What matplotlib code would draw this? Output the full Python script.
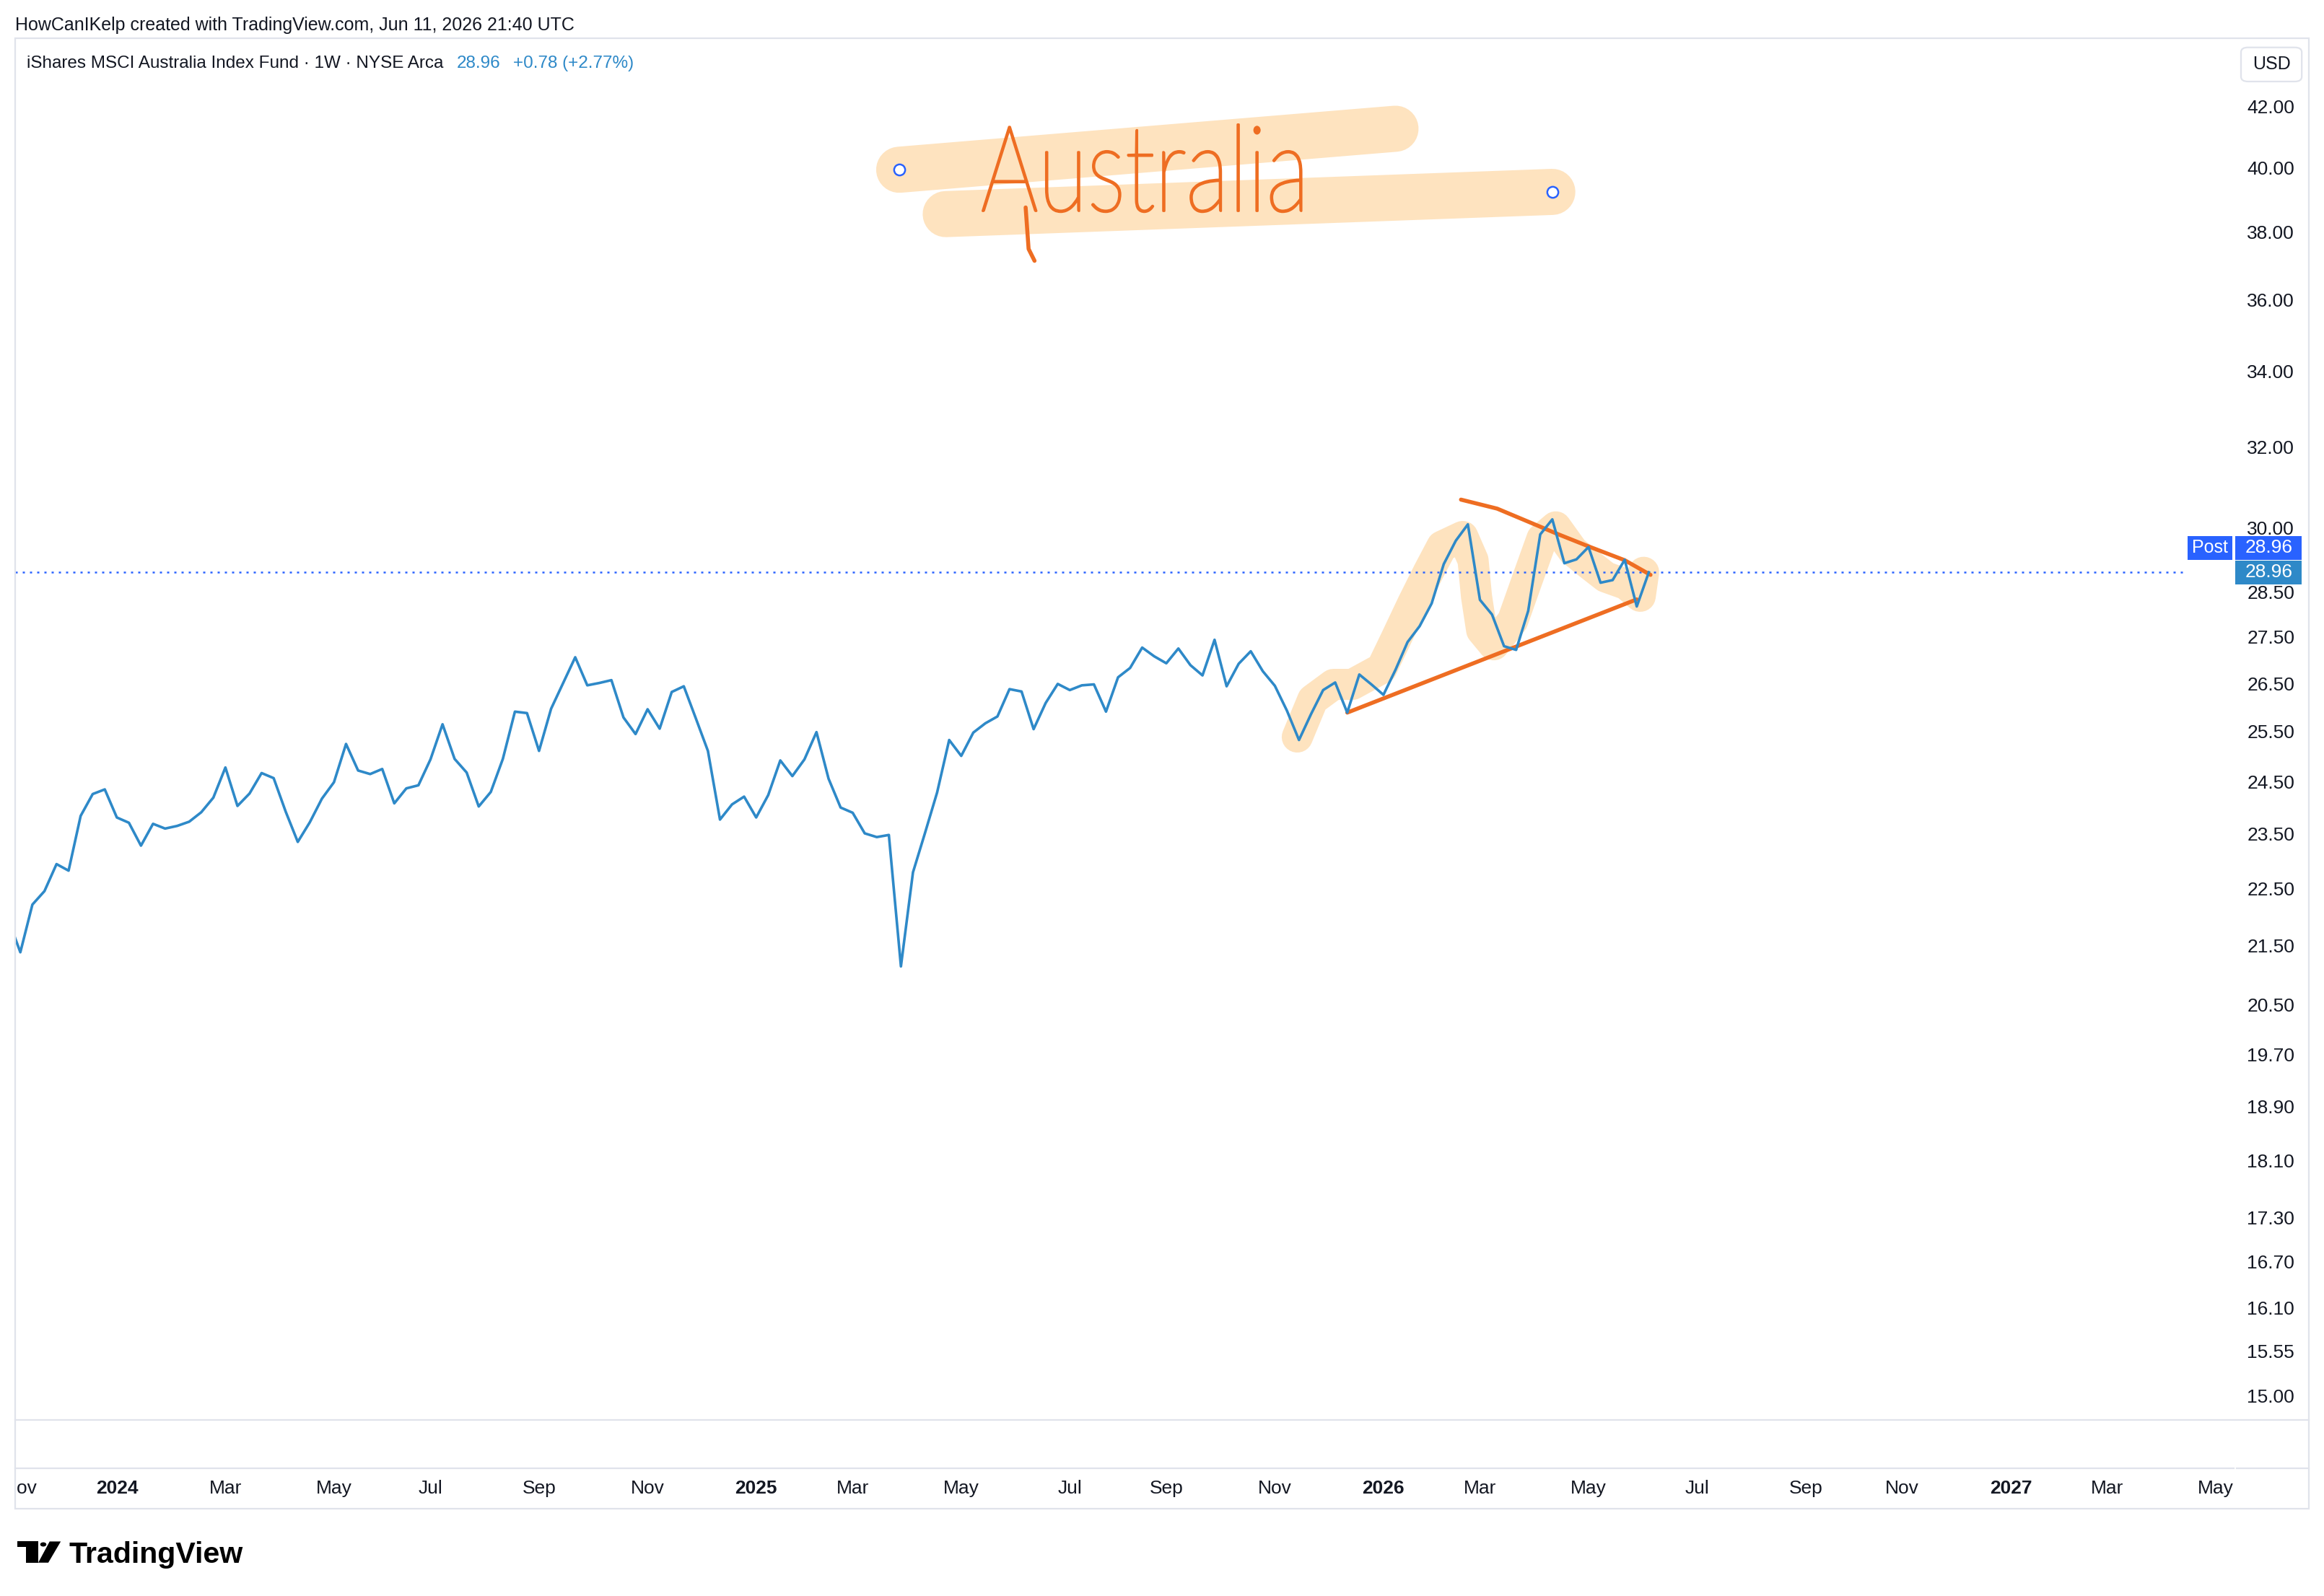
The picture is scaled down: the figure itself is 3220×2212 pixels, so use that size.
import pandas as pd
import matplotlib
matplotlib.use("Agg")
import matplotlib.pyplot as plt
import matplotlib.transforms as mtransforms
from matplotlib.patches import Rectangle, FancyBboxPatch, Circle, Polygon, PathPatch
from matplotlib.lines import Line2D
from matplotlib.textpath import TextPath
from matplotlib.font_manager import FontProperties
from matplotlib.transforms import Affine2D

# weekly closes, iShares MSCI Australia (EWA), weeks from 2023-10-30 to 2026-06-08
first_week = "2023-10-30"
closes = [21.95,
          21.38, 22.21, 22.45, 22.94, 22.82, 23.84, 24.26, 24.35, 23.81, 23.71,
          23.28, 23.69, 23.60, 23.65, 23.73, 23.91, 24.19, 24.78, 24.03, 24.27,
          24.67, 24.57, 23.92, 23.35, 23.72, 24.17, 24.49, 25.25, 24.72, 24.65,
          24.75, 24.08, 24.37, 24.43, 24.94, 25.65,
          24.95, 24.68, 24.02, 24.30, 24.95, 25.91, 25.88, 25.11, 25.97, 26.51,
          27.06, 26.46, 26.51, 26.57, 25.79, 25.45, 25.96, 25.56, 26.32, 26.44,
          25.77, 25.11, 23.77, 24.06, 24.21, 23.81, 24.24, 24.92, 24.61, 24.94,
          25.49, 24.56, 24.00, 23.90, 23.51, 23.44, 23.48,
          21.14, 22.79, 23.52, 24.29, 25.33, 25.01, 25.48, 25.67, 25.81, 26.38,
          26.33, 25.55, 26.09, 26.49, 26.36, 26.46, 26.48, 25.91, 26.63, 26.83,
          27.27, 27.08, 26.93, 27.25, 26.89, 26.67, 27.44, 26.44, 26.92, 27.19,
          26.76, 26.45, 25.93, 25.33, 25.86, 26.36,
          26.52, 25.89, 26.69, 26.48, 26.26, 26.79, 27.39, 27.74, 28.25, 29.15,
          29.70, 30.09, 28.33, 28.00, 27.30, 27.22, 28.08, 29.85, 30.21, 29.17,
          29.26, 29.55, 28.72, 28.78, 29.25, 28.18, 28.96]
last_price = 28.96
change_txt = "+0.78 (+2.77%)"

# drawn trend lines (date, price)
upper_dates = ["2026-02-19", "2026-03-12", "2026-04-01", "2026-04-16",
               "2026-05-05", "2026-05-25", "2026-06-09"]
upper_prices = [30.69, 30.47, 30.12, 29.86, 29.55, 29.24, 28.90]
lower_dates = ["2025-12-15", "2026-06-01"]
lower_prices = [25.89, 28.34]

# highlighter over the last swing
marker_dates = ["2025-11-16", "2025-11-25", "2025-12-07", "2025-12-18", "2026-01-04",
                "2026-01-12", "2026-01-22", "2026-01-31", "2026-02-08", "2026-02-20",
                "2026-02-26", "2026-02-28", "2026-03-03", "2026-03-10", "2026-03-21",
                "2026-03-30", "2026-04-07", "2026-04-15", "2026-04-25", "2026-05-05",
                "2026-05-14", "2026-05-26", "2026-06-03", "2026-06-05"]
marker_prices = [25.39, 26.16, 26.48, 26.48, 26.82, 27.44, 28.25, 28.96, 29.57, 29.80,
                 29.24, 28.41, 27.65, 27.33, 27.86, 28.85, 29.75, 30.03, 29.46, 29.13,
                 28.85, 28.68, 28.41, 28.96]

# "Australia" note: two highlighter strokes and their anchor handles
note_a_dates = ["2025-03-30", "2026-01-12"]
note_a_prices = [39.94, 41.27]
note_b_dates = ["2025-04-26", "2026-04-13"]
note_b_prices = [38.55, 39.24]
handle_dates = ["2025-03-30", "2026-04-13"]
handle_prices = [39.94, 39.24]

price_ticks = [42.0, 40.0, 38.0, 36.0, 34.0, 32.0, 30.0, 28.5, 27.5, 26.5, 25.5, 24.5,
               23.5, 22.5, 21.5, 20.5, 19.7, 18.9, 18.1, 17.3, 16.7, 16.1, 15.55, 15.0]

LINE = "#2e89c8"
ORANGE = "#ee6d22"
PEACH = "#fee3bf"
TXT = "#131722"
GRID = "#e0e3eb"
BLUE = "#2962ff"
FONT = ["Liberation Sans", "DejaVu Sans"]
plt.rcParams["font.family"] = FONT

dates = pd.date_range(first_week, periods=len(closes), freq="W-MON")

fig = plt.figure(figsize=(16.1, 11.06), dpi=200)
W, H = 1568.0, 1077.0


def fx(d):
    return d / W


def fy(d):
    return 1 - d / H


ax = fig.add_axes([fx(10), fy(958), fx(1508) - fx(10), fy(27) - fy(958)])
ax.set_yscale("log")
ax.set_ylim(14.72, 44.30)
x_left = dates[1] - pd.Timedelta(days=3.2)
x_right = dates[-1] + pd.Timedelta(weeks=48.6)
ax.set_xlim(x_left, x_right)
for s in ax.spines.values():
    s.set_visible(False)

ax.plot(pd.to_datetime(note_a_dates), note_a_prices, color=PEACH, lw=23,
        solid_capstyle="round", zorder=2)
ax.plot(pd.to_datetime(note_b_dates), note_b_prices, color=PEACH, lw=23,
        solid_capstyle="round", zorder=2)
ax.plot(pd.to_datetime(handle_dates), handle_prices, "o", ms=5.5, mfc="white",
        mec=BLUE, mew=0.9, zorder=6)

ax.plot(pd.to_datetime(marker_dates), marker_prices, color=PEACH, lw=15.5,
        solid_capstyle="round", solid_joinstyle="round", zorder=2)
ax.axhline(last_price, xmin=0, xmax=(1476 - 10) / (1508 - 10), color=BLUE, lw=0.9,
           ls=(0, (1.2, 2.8)), zorder=3)
ax.plot(pd.to_datetime(upper_dates), upper_prices, color=ORANGE, lw=2.0,
        solid_capstyle="round", zorder=4)
ax.plot(pd.to_datetime(lower_dates), lower_prices, color=ORANGE, lw=2.0,
        solid_capstyle="round", zorder=4)
ax.plot(dates, closes, color=LINE, lw=1.3, zorder=5)

ax.yaxis.tick_right()
ax.set_yticks(price_ticks)
ax.set_yticklabels(["%.2f" % v for v in price_ticks])
ax.yaxis.set_minor_locator(matplotlib.ticker.NullLocator())
ax.tick_params(axis="y", length=0, pad=5.9, labelsize=9.5, labelcolor=TXT)
ax.set_xticks([])

# time axis
ax_t = fig.add_axes([fx(10), fy(1018), fx(1508) - fx(10), fy(991) - fy(1018)])
ax_t.set_xlim(x_left, x_right)
ax_t.set_ylim(0, 1)
ax_t.axis("off")
weeks = pd.date_range(first_week, "2027-08-01", freq="W-MON")
seen = set()
for d in weeks:
    key = (d.year, d.month)
    if key in seen or d.month % 2 == 0:
        continue
    seen.add(key)
    lab = str(d.year) if d.month == 1 else d.strftime("%b")
    ax_t.text(d, 0.5, lab, ha="center", va="center", fontsize=9.5, color=TXT,
              fontweight="bold" if d.month == 1 else "normal", clip_on=True)

# frame and separators
fig.add_artist(Rectangle((fx(10), fy(1018)), fx(1558) - fx(10), fy(26) - fy(1018),
                         fill=False, ec=GRID, lw=0.8))
fig.add_artist(Line2D([fx(10), fx(1558)], [fy(958), fy(958)], color=GRID, lw=0.8))
fig.add_artist(Line2D([fx(10), fx(1507)], [fy(991), fy(991)], color=GRID, lw=0.8))
fig.add_artist(Line2D([fx(1509), fx(1558)], [fy(991), fy(991)], color=GRID, lw=0.8))

# header texts
fig.text(fx(10), fy(17), "HowCanIKelp created with TradingView.com, Jun 11, 2026 21:40 UTC",
         fontsize=9, color=TXT, va="center")
fig.text(fx(18), fy(43), "iShares MSCI Australia Index Fund · 1W · NYSE Arca",
         fontsize=8.75, color=TXT, va="center")
fig.text(fx(308), fy(43), "%.2f" % last_price, fontsize=8.75, color=LINE, va="center")
fig.text(fx(346), fy(43), change_txt, fontsize=8.75, color=LINE, va="center")

# USD box
fig.add_artist(FancyBboxPatch((fx(1512), fy(55)), fx(1553) - fx(1512), fy(32) - fy(55),
                              boxstyle="round,pad=0,rounding_size=0.003", fc="white",
                              ec=GRID, lw=0.8))
fig.text(fx(1532.5), fy(43.5), "USD", fontsize=9, color=TXT, ha="center", va="center")

# last price labels
price_tr = mtransforms.blended_transform_factory(ax.transAxes, ax.transData)
y_last = fig.transFigure.inverted().transform(price_tr.transform((0.5, last_price)))[1]
bh = 16 / H
fig.add_artist(Rectangle((fx(1508), y_last - bh / 2), fx(1553) - fx(1508), bh,
                         fc=LINE, ec="none"))
fig.text(fx(1531), y_last, "%.2f" % last_price, fontsize=9.5, color="white",
         ha="center", va="center")
y_post = y_last + 16.5 / H
fig.add_artist(Rectangle((fx(1508), y_post - bh / 2), fx(1553) - fx(1508), bh,
                         fc=BLUE, ec="none"))
fig.text(fx(1531), y_post, "%.2f" % last_price, fontsize=9.5, color="white",
         ha="center", va="center")
fig.add_artist(Rectangle((fx(1476), y_post - bh / 2), fx(1506) - fx(1476), bh,
                         fc=BLUE, ec="none"))
fig.text(fx(1491), y_post, "Post", fontsize=9, color="white", ha="center", va="center")

# handwritten note
fp = FontProperties(family=["Lato", "DejaVu Sans"], weight="light")
tp = TextPath((0, 0), "Australia", size=1, prop=fp)
bb = tp.get_extents()
x0, x1, yb, yt = fx(663), fx(878), fy(143), fy(84)
tr = Affine2D().translate(-bb.x0, -bb.y0).scale((x1 - x0) / bb.width,
                                                 (yt - yb) / bb.height).translate(x0, yb)
fig.add_artist(PathPatch(tr.transform_path(tp), transform=fig.transFigure,
                         fc=ORANGE, ec=ORANGE, lw=1.1, joinstyle="round", zorder=3))
fig.add_artist(Line2D([fx(692), fx(694), fx(698)], [fy(140), fy(168), fy(176)],
                      color=ORANGE, lw=2.0, solid_capstyle="round", zorder=3))

# TradingView logo
fig.add_artist(Polygon([(fx(11.6), fy(1040.2)), (fx(25.6), fy(1040.2)), (fx(25.6), fy(1054.5)),
                        (fx(17.7), fy(1054.5)), (fx(17.7), fy(1043.8)), (fx(11.6), fy(1043.8))],
                       closed=True, fc="black", ec="none"))
fig.add_artist(Circle((fx(29.2), fy(1042.2)), 2.1 / W, fc="black", ec="none"))
fig.add_artist(Polygon([(fx(33.5), fy(1040.2)), (fx(41.0), fy(1040.2)), (fx(32.6), fy(1054.5)),
                        (fx(25.8), fy(1054.5))], closed=True, fc="black", ec="none"))
fig.text(fx(46.6), fy(1054.5), "TradingView", fontsize=14.8, fontweight="bold",
         color="black", va="baseline")

fig.savefig("out.png", dpi=200, facecolor="white")
